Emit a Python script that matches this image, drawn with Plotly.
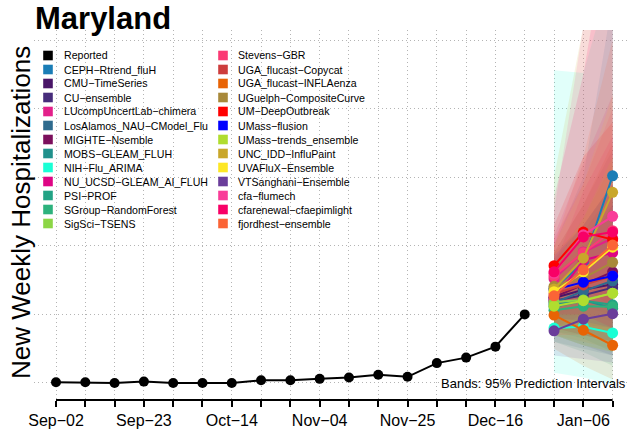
import pandas as pd
import plotly.graph_objects as go

# ---------------- data ----------------
week_dates = pd.date_range("2023-09-02", periods=20, freq="7D")
tick_labels = ["Sep-02", "", "", "Sep-23", "", "", "Oct-14", "", "", "Nov-04", "", "",
               "Nov-25", "", "", "Dec-16", "", "", "Jan-06", ""]

reported = [1, 1, 0, 2, 0, 0, 0, 4, 4, 6, 8, 12, 9, 29, 37, 53, 100]
obs_dates = week_dates[:17]
fc_dates = week_dates[17:20]

models = ["CEPH-Rtrend_fluH", "CMU-TimeSeries", "CU-ensemble", "LUcompUncertLab-chimera",
          "LosAlamos_NAU-CModel_Flu", "MIGHTE-Nsemble", "MOBS-GLEAM_FLUH", "NIH-Flu_ARIMA",
          "NU_UCSD-GLEAM_AI_FLUH", "PSI-PROF", "SGroup-RandomForest", "SigSci-TSENS",
          "Stevens-GBR", "UGA_flucast-Copycat", "UGA_flucast-INFLAenza", "UGuelph-CompositeCurve",
          "UM-DeepOutbreak", "UMass-flusion", "UMass-trends_ensemble", "UNC_IDD-InfluPaint",
          "UVAFluX-Ensemble", "VTSanghani-Ensemble", "cfa-flumech", "cfarenewal-cfaepimlight",
          "fjordhest-ensemble"]

colors = ["#1A7DB6", "#4A1668", "#472D7B", "#E3208A", "#2F6B8E", "#7B0F5C", "#21918C",
          "#1AFFD5", "#DE0584", "#22A385", "#2DB27D", "#8CD646", "#FB3A74", "#CD3D3D",
          "#E86305", "#A8893A", "#FF0000", "#0000FF", "#B0DD2F", "#C9A72A", "#FDE725",
          "#6A3D9A", "#F93C98", "#F80066", "#FB6436"]

median = [[138, 175, 302], [124, 136, 144], [120, 128, 139], [152, 191, 211],
          [117, 134, 149], [125, 144, 162], [114, 121, 109], [80, 82, 73],
          [121, 179, 190], [111, 120, 114], [106, 112, 111], [118, 121, 131],
          [156, 190, 222], [130, 143, 156], [99, 77, 55], [141, 153, 176],
          [171, 220, 209], [136, 147, 156], [112, 120, 131], [137, 182, 278],
          [133, 162, 198], [76, 93, 101], [160, 216, 243], [162, 213, 220],
          [127, 165, 201]]

lower95 = [[95, 100, 150], [80, 70, 60], [70, 55, 40], [100, 110, 100],
           [60, 50, 40], [85, 85, 80], [75, 65, 45], [15, 8, -2],
           [80, 100, 90], [60, 45, 25], [75, 70, 60], [70, 55, 45],
           [110, 120, 120], [80, 70, 60], [50, 25, 5], [100, 95, 100],
           [120, 140, 110], [95, 90, 80], [70, 55, 45], [70, 60, 50],
           [85, 80, 75], [40, 35, 30], [110, 120, 110], [100, 100, 80],
           [70, 70, 60]]

upper95 = [[200, 300, 560], [175, 215, 260], [180, 230, 290], [215, 320, 420],
           [190, 260, 340], [170, 220, 280], [165, 200, 230], [456, 452, 600],
           [170, 280, 360], [175, 230, 290], [145, 170, 200], [180, 240, 320],
           [210, 290, 400], [190, 260, 350], [160, 160, 150], [190, 230, 290],
           [230, 330, 380], [185, 230, 290], [170, 240, 330], [300, 520, 650],
           [200, 290, 420], [130, 190, 260], [250, 520, 800], [270, 450, 700],
           [200, 330, 500]]

# ---------------- layout helpers ----------------
W, H = 629, 431
ML, MT, MB = 34, 30, 31
PW, PH = W - ML, H - MT - MB


def px(xp):
    return (xp - ML) / PW


def py(yp):
    return (H - MB - yp) / PH


def hexrgba(h, a):
    h = h.lstrip("#")
    return "rgba(%d,%d,%d,%s)" % (int(h[0:2], 16), int(h[2:4], 16), int(h[4:6], 16), a)


FONT = "Liberation Sans, Arial, Helvetica, sans-serif"
GRID = dict(showgrid=True, gridcolor="#B4B4B4", griddash="1px,3px", gridwidth=1)

fig = go.Figure()

# prediction bands
for name, col, lo, up in zip(models, colors, lower95, upper95):
    xs = list(fc_dates) + list(fc_dates[::-1])
    ys = list(up) + list(lo[::-1])
    fig.add_trace(go.Scatter(x=xs, y=ys, fill="toself", fillcolor=hexrgba(col, 0.13),
                             line=dict(width=0), mode="lines", hoverinfo="skip",
                             showlegend=False))

# reported
fig.add_trace(go.Scatter(x=obs_dates, y=reported, mode="lines+markers",
                         line=dict(color="black", width=2),
                         marker=dict(color="black", size=10), showlegend=False,
                         name="Reported"))

# forecasts
for name, col, med in zip(models, colors, median):
    fig.add_trace(go.Scatter(x=fc_dates, y=med, mode="lines+markers",
                             line=dict(color=col, width=2),
                             marker=dict(color=col, size=11), showlegend=False,
                             name=name))

# axis ranges (weekly spacing)
x0 = week_dates[0] - pd.Timedelta(days=7 * 0.751)
x1 = x0 + pd.Timedelta(days=7 * 20.31)

fig.update_xaxes(range=[x0, x1], tickvals=list(week_dates),
                 ticktext=[t.replace("-", "\u2212") for t in tick_labels],
                 ticks="outside", ticklen=6, tickwidth=1.5, tickcolor="black",
                 showline=False, zeroline=False,
                 tickfont=dict(family=FONT, size=16, color="black"), **GRID)
fig.update_yaxes(range=[-24.8, 514.6], tickvals=[0, 100, 200, 300, 400, 500],
                 showticklabels=False, ticks="", showline=False, zeroline=False, **GRID)

shapes = []
# axis line from first to last tick
shapes.append(dict(type="line", xref="x", yref="paper", x0=week_dates[0], x1=week_dates[-1],
                   y0=0, y1=0, line=dict(color="black", width=2)))

annotations = []
# legend
leg_names = ["Reported"] + models
leg_colors = ["#000000"] + colors
for i, (n, c) in enumerate(zip(leg_names, leg_colors)):
    colx = 0 if i < 13 else 1
    row = i if i < 13 else i - 13
    yc = 55.5 + 14 * row
    sx = 48 if colx == 0 else 223
    tx = 61.5 if colx == 0 else 236
    shapes.append(dict(type="rect", xref="paper", yref="paper",
                       x0=px(sx - 4.8), x1=px(sx + 4.8), y0=py(yc + 4.8), y1=py(yc - 4.8),
                       fillcolor=c, line=dict(width=0)))
    annotations.append(dict(text=n.replace("-", "\u2212"), xref="paper", yref="paper",
                            x=px(tx), y=py(yc), xanchor="left", yanchor="middle",
                            showarrow=False, font=dict(family=FONT, size=10.6, color="black")))

# title
annotations.append(dict(text="<b>Maryland</b>", xref="paper", yref="paper", x=px(33),
                        y=py(18), xanchor="left", yanchor="middle", showarrow=False,
                        font=dict(family=FONT, size=31, color="black")))
# y-axis title
annotations.append(dict(text="New Weekly Hospitalizations", xref="paper", yref="paper",
                        x=px(21), y=py(213), xanchor="center", yanchor="middle",
                        textangle=-90, showarrow=False,
                        font=dict(family=FONT, size=26, color="black")))
# bands note
annotations.append(dict(text="Bands: 95% Prediction Intervals", xref="paper", yref="paper",
                        x=px(628), y=py(383), xanchor="right", yanchor="middle",
                        showarrow=False, font=dict(family=FONT, size=13, color="black")))

fig.update_layout(width=W, height=H, margin=dict(l=ML, r=0, t=MT, b=MB, pad=0),
                  plot_bgcolor="white", paper_bgcolor="white", showlegend=False,
                  shapes=shapes, annotations=annotations,
                  font=dict(family=FONT, color="black"))

fig.write_html("out.html", config={"displayModeBar": False},
               post_script="document.body.style.margin='0';document.body.style.padding='0';")
